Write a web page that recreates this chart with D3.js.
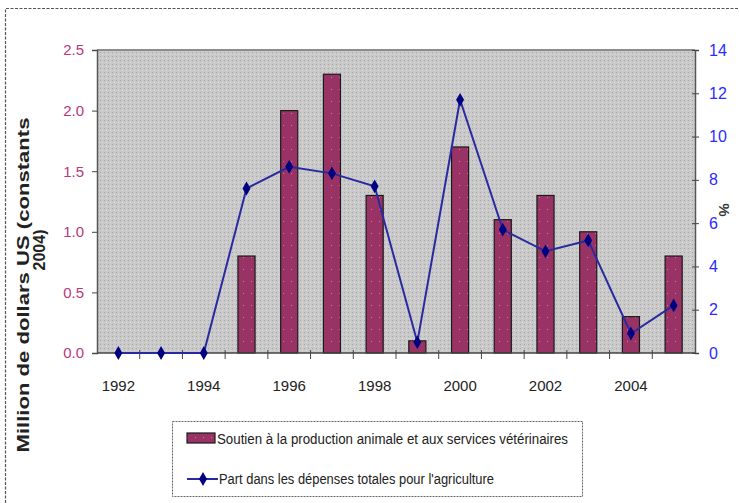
<!DOCTYPE html>
<html>
<head>
<meta charset="utf-8">
<script src="https://cdnjs.cloudflare.com/ajax/libs/d3/7.8.5/d3.min.js"></script>
<style>
body{margin:0;background:#fff;}
text{font-family:"Liberation Sans",Arial,sans-serif;}
</style>
</head>
<body>
<script>
const svg_width = 739, svg_height = 503;
// data
var years = [1992,1993,1994,1995,1996,1997,1998,1999,2000,2001,2002,2003,2004,2005];
var soutien = [0,0,0,0.8,2.0,2.3,1.3,0.1,1.7,1.1,1.3,1.0,0.3,0.8];
var partPct = [0,0,0,7.6,8.6,8.3,7.7,0.5,11.7,5.7,4.7,5.2,0.9,2.2];
var leftTicks = [0,0.5,1.0,1.5,2.0,2.5];
var rightTicks = [0,2,4,6,8,10,12,14];
var yearLabels = [1992,1994,1996,1998,2000,2002,2004];
var legendLabels = ["Soutien à la production animale et aux services vétérinaires",
                    "Part dans les dépenses totales pour l'agriculture"];

const plot_left = 97, plot_right = 695, plot_top = 50, plot_bottom = 353;

var svgContainer = d3.select("body").append("svg")
	.attr("width",svg_width)
	.attr("height",svg_height);

var defs = svgContainer.append("defs");
// grey textured background
var bgPat = defs.append("pattern").attr("id","bgpat")
	.attr("width",4).attr("height",4).attr("patternUnits","userSpaceOnUse");
bgPat.append("rect").attr("width",4).attr("height",4).attr("fill","#c9c9c9");
bgPat.append("rect").attr("x",0).attr("y",0).attr("width",1).attr("height",1).attr("fill","#a8a8a8");
bgPat.append("rect").attr("x",2).attr("y",2).attr("width",1).attr("height",1).attr("fill","#dedede");
// bars with small dots
var barPat = defs.append("pattern").attr("id","barpat")
	.attr("width",8).attr("height",12).attr("patternUnits","userSpaceOnUse");
barPat.append("rect").attr("width",8).attr("height",12).attr("fill","#993366");
barPat.append("rect").attr("x",3).attr("y",5).attr("width",1).attr("height",1).attr("fill","#c77aa0");

// outer dashed frame (left and top only visible)
svgContainer.append("path")
	.attr("d","M5.5,503 L5.5,8.5 L739,8.5")
	.attr("fill","none").attr("stroke","#555").attr("stroke-width",1.2)
	.attr("stroke-dasharray","3,1.5");

var x = d3.scaleBand().domain(years).range([plot_left,plot_right]).padding(0);
var yL = d3.scaleLinear().domain([0,2.5]).range([plot_bottom,plot_top]);
var yR = d3.scaleLinear().domain([0,14]).range([plot_bottom,plot_top]);

// plot area
svgContainer.append("rect")
	.attr("x",plot_left).attr("y",plot_top)
	.attr("width",plot_right-plot_left).attr("height",plot_bottom-plot_top)
	.attr("fill","url(#bgpat)");
svgContainer.append("line")
	.attr("x1",plot_left).attr("x2",plot_right).attr("y1",plot_top).attr("y2",plot_top)
	.attr("stroke","#8c8c8c").attr("stroke-width",2);

// bars
var bw = x.bandwidth()*0.4;
svgContainer.append("g").selectAll("rect")
	.data(years.map(function(d,i){return {year:d,v:soutien[i]};}).filter(function(d){return d.v>0;}))
	.enter().append("rect")
	.attr("x",function(d){return x(d.year)+x.bandwidth()/2-bw/2;})
	.attr("y",function(d){return yL(d.v);})
	.attr("width",bw)
	.attr("height",function(d){return plot_bottom-yL(d.v);})
	.attr("fill","url(#barpat)")
	.attr("stroke","#1a1a1a").attr("stroke-width",1.2);

// left axis
var leftAxis = svgContainer.append("g").attr("transform","translate("+plot_left+",0)")
	.call(d3.axisLeft(yL).tickValues(leftTicks).tickSize(5).tickPadding(8).tickFormat(d3.format(".1f")));
leftAxis.select(".domain").attr("stroke","#555").attr("stroke-width",1.5);
leftAxis.selectAll(".tick line").attr("stroke","#444");
leftAxis.selectAll("text").attr("fill","#b8387a").attr("font-size","15px")
	.attr("font-family","Liberation Sans, Arial, sans-serif");

// right axis
var rightAxis = svgContainer.append("g").attr("transform","translate("+plot_right+",0)")
	.call(d3.axisRight(yR).tickValues(rightTicks).tickSize(4).tickPadding(10));
rightAxis.select(".domain").attr("stroke","#555").attr("stroke-width",1.5);
rightAxis.selectAll(".tick line").attr("stroke","#444").attr("x1",-3);
rightAxis.selectAll("text").attr("fill","#2b2bff").attr("font-size","16px")
	.attr("font-family","Liberation Sans, Arial, sans-serif");

// bottom axis: ticks on band boundaries, labels every other year
var bottom = svgContainer.append("g");
bottom.append("line")
	.attr("x1",plot_left).attr("x2",plot_right).attr("y1",plot_bottom).attr("y2",plot_bottom)
	.attr("stroke","#444").attr("stroke-width",1.5);
bottom.selectAll("line.tk").data(years.slice(1)).enter().append("line").attr("class","tk")
	.attr("x1",function(d){return x(d);}).attr("x2",function(d){return x(d);})
	.attr("y1",plot_bottom-3).attr("y2",plot_bottom+6)
	.attr("stroke","#444");
bottom.selectAll("text").data(yearLabels).enter().append("text")
	.attr("x",function(d){return x(d)+x.bandwidth()/2;})
	.attr("y",plot_bottom+38)
	.attr("text-anchor","middle")
	.attr("font-size","15px").attr("fill","#222")
	.text(function(d){return d;});

// line series
var pts = years.map(function(d,i){return {year:d,v:partPct[i]};});
var lineFn = d3.line()
	.x(function(d){return x(d.year)+x.bandwidth()/2;})
	.y(function(d){return yR(d.v);});
svgContainer.append("path").attr("d",lineFn(pts))
	.attr("fill","none").attr("stroke","#2a2aa0").attr("stroke-width",2);
var diamond = d3.symbol().type(d3.symbolDiamond).size(55);
svgContainer.append("g").selectAll("path").data(pts).enter().append("path")
	.attr("d",diamond)
	.attr("transform",function(d){return "translate("+(x(d.year)+x.bandwidth()/2)+","+yR(d.v)+")";})
	.attr("fill","#000080");

// axis titles
svgContainer.append("text")
	.attr("transform","translate(29,285) rotate(-90)")
	.attr("text-anchor","middle").attr("font-size","16px").attr("font-weight","bold").attr("fill","#222")
	.attr("textLength",335).attr("lengthAdjust","spacingAndGlyphs")
	.text("Million de dollars US (constants");
svgContainer.append("text")
	.attr("transform","translate(45,250) rotate(-90)")
	.attr("text-anchor","middle").attr("font-size","16px").attr("font-weight","bold").attr("fill","#222")
	.text("2004)");
svgContainer.append("text")
	.attr("transform","translate(719,210) rotate(90)")
	.attr("text-anchor","middle").attr("font-size","15px").attr("font-weight","bold").attr("fill","#333")
	.text("%");

// legend
var legend = svgContainer.append("g");
legend.append("rect")
	.attr("x",172.5).attr("y",421.5).attr("width",410).attr("height",75)
	.attr("fill","#fff").attr("stroke","#666").attr("stroke-dasharray","2,1");
legend.append("rect")
	.attr("x",187).attr("y",433).attr("width",28).attr("height",10)
	.attr("fill","url(#barpat)").attr("stroke","#1a1a1a").attr("stroke-width",1.2);
legend.append("line")
	.attr("x1",187).attr("x2",218).attr("y1",479).attr("y2",479)
	.attr("stroke","#2a2aa0").attr("stroke-width",2);
legend.append("path").attr("d",diamond).attr("transform","translate(203,479)").attr("fill","#000080");
legend.append("text").attr("x",217).attr("y",444)
	.attr("font-size","14px").attr("fill","#222")
	.attr("textLength",351).attr("lengthAdjust","spacingAndGlyphs")
	.text(legendLabels[0]);
legend.append("text").attr("x",219).attr("y",484)
	.attr("font-size","14px").attr("fill","#222")
	.attr("textLength",275).attr("lengthAdjust","spacingAndGlyphs")
	.text(legendLabels[1]);
</script>
</body>
</html>
